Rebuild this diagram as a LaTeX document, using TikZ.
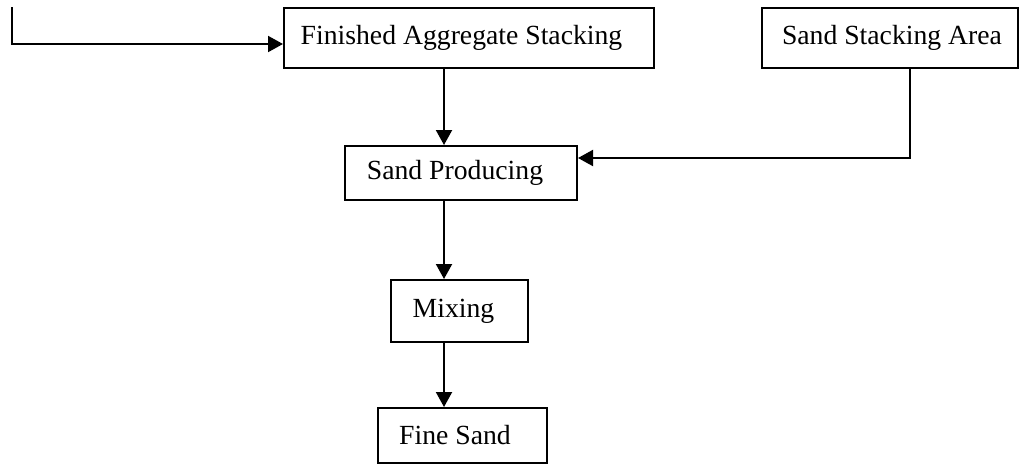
\documentclass[tikz,border=0pt]{standalone}
\usepackage{fontspec}
\setmainfont{Liberation Serif}
\usetikzlibrary{arrows.meta}
\begin{document}
\begin{tikzpicture}[x=1pt,y=-1pt,
  box/.style={draw,line width=2pt,inner sep=0pt,font=\fontsize{27.7}{32}\selectfont},
  arr/.style={line width=2pt,-{Triangle[length=15pt,width=16pt]}}]
\useasboundingbox (0,0) rectangle (1019,464);
\node[box,minimum width=370,minimum height=60] (fas) at (469,38) {Finished Aggregate Stacking\hspace*{15pt}};
\node[box,minimum width=256,minimum height=60] (ssa) at (890,38) {\hspace*{4pt}Sand Stacking Area};
\node[box,minimum width=232,minimum height=54] (sp) at (461,173) {Sand Producing\hspace*{12pt}};
\node[box,minimum width=137,minimum height=62] (mix) at (459.5,311) {Mixing\hspace*{12pt}};
\node[box,minimum width=169,minimum height=55] (fine) at (462.5,435.5) {Fine Sand\hspace*{15pt}};
\coordinate (ax) at (444,0);
\coordinate (lstart) at (12,7);
\coordinate (lbend) at (12,44);
\coordinate (rbend) at (910,158);
\draw[arr] (lstart) -- (lbend) -- (fas.west |- lbend);
\draw[arr] (fas.south -| ax) -- (sp.north -| ax);
\draw[arr] (ssa.south -| rbend) -- (rbend) -- (sp.east |- rbend);
\draw[arr] (sp.south -| ax) -- (mix.north -| ax);
\draw[arr] (mix.south -| ax) -- (fine.north -| ax);
\end{tikzpicture}
\end{document}
